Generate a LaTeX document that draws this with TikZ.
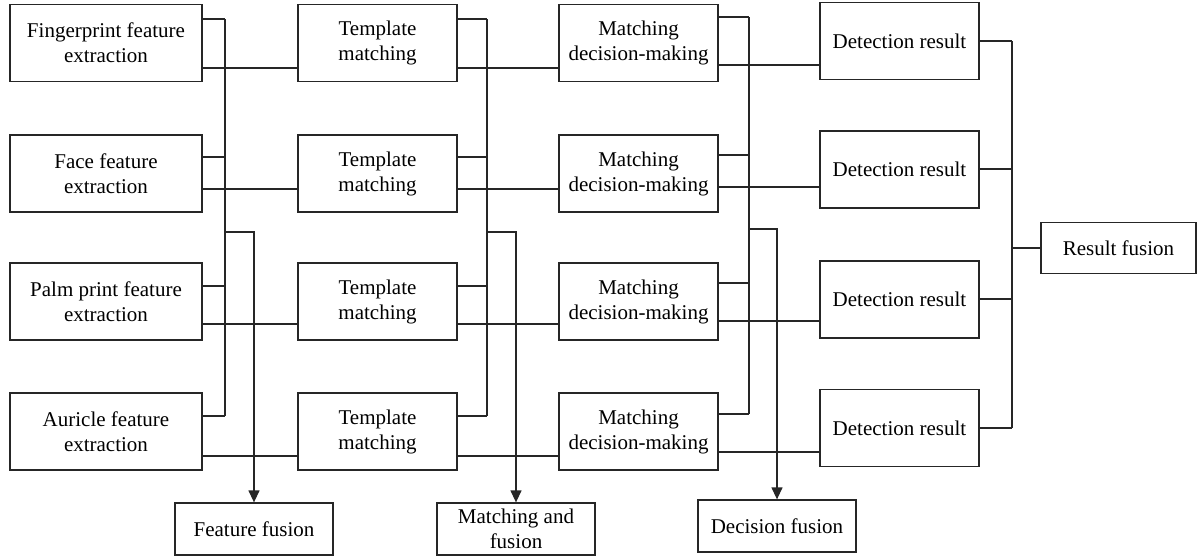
\documentclass[tikz,border=0pt]{standalone}
\usepackage{fontspec}
\setmainfont{Liberation Serif}
\usetikzlibrary{arrows.meta}
\begin{document}
\begin{tikzpicture}[x=1pt,y=-1pt,
  box/.style={draw=black!85, line width=1.3pt, inner sep=0pt, align=center, font=\fontsize{21}{25}\selectfont},
  wb/.style={box, minimum width=192pt, minimum height=77pt},
  nb/.style={box, minimum width=159pt, minimum height=77pt},
  fb/.style={box, minimum width=158pt, minimum height=52pt},
  wire/.style={draw=black!85, line width=1.3pt},
  arr/.style={wire, -{Triangle[length=12pt,width=11pt]}}]
\useasboundingbox (0,0) rectangle (1197,558);
% column 1
\node[wb] (f1) at (106,43) {Fingerprint feature\\extraction};
\node[wb] (f2) at (106,173.5) {Face feature\\extraction};
\node[wb] (f3) at (106,301.5) {Palm print feature\\extraction};
\node[wb] (f4) at (106,431.5) {Auricle feature\\extraction};
% column 2
\node[nb] (t1) at (377.5,43) {Template\\matching};
\node[nb] (t2) at (377.5,173.5) {Template\\matching};
\node[nb] (t3) at (377.5,301.5) {Template\\matching};
\node[nb] (t4) at (377.5,431.5) {Template\\matching};
% column 3
\node[nb] (m1) at (638.5,43) {Matching\\decision-making};
\node[nb] (m2) at (638.5,173.5) {Matching\\decision-making};
\node[nb] (m3) at (638.5,301.5) {Matching\\decision-making};
\node[nb] (m4) at (638.5,431.5) {Matching\\decision-making};
% column 4
\node[nb] (d1) at (899.5,41) {Detection result};
\node[nb] (d2) at (899.5,169.5) {Detection result};
\node[nb] (d3) at (899.5,299.5) {Detection result};
\node[nb] (d4) at (899.5,428) {Detection result};
% fusion boxes
\node[box, minimum width=155pt, minimum height=51pt] (rf) at (1118.5,248) {Result fusion};
\node[fb] (ff) at (254,529) {Feature fusion};
\node[fb] (mf) at (516,529) {Matching and\\fusion};
\node[fb] (df) at (777,526) {Decision fusion};
% bus coordinates
\coordinate (b1) at (225,19);
\coordinate (b1e) at (225,416);
\coordinate (j1) at (225,232);
\coordinate (b2) at (487,19);
\coordinate (b2e) at (487,416);
\coordinate (j2) at (487,232);
\coordinate (b3) at (749,17);
\coordinate (b3e) at (749,414);
\coordinate (j3) at (749,229);
\coordinate (b4) at (1012,41);
\coordinate (b4e) at (1012,428);
% connectors
\foreach \r/\u/\l in {1/19/68, 2/157/189, 3/286/324, 4/416/456} {
  \draw[wire] (f\r.east |- 0,\u) -- (b1 |- 0,\u);
  \draw[wire] (f\r.east |- 0,\l) -- (t\r.west |- 0,\l);
  \draw[wire] (t\r.east |- 0,\u) -- (b2 |- 0,\u);
  \draw[wire] (t\r.east |- 0,\l) -- (m\r.west |- 0,\l);
}
\foreach \r/\u/\l in {1/17/65, 2/155/187, 3/283/321, 4/414/452} {
  \draw[wire] (m\r.east |- 0,\u) -- (b3 |- 0,\u);
  \draw[wire] (m\r.east |- 0,\l) -- (d\r.west |- 0,\l);
}
\foreach \r/\o in {1/41, 2/169, 3/299, 4/428} {
  \draw[wire] (d\r.east |- 0,\o) -- (b4 |- 0,\o);
}
\draw[wire] (b1) -- (b1e);
\draw[wire] (b2) -- (b2e);
\draw[wire] (b3) -- (b3e);
\draw[wire] (b4) -- (b4e);
\draw[arr] (j1) -| (ff.north);
\draw[arr] (j2) -| (mf.north);
\draw[arr] (j3) -| (df.north);
\draw[wire] (b4 |- rf.west) -- (rf.west);
\end{tikzpicture}
\end{document}
